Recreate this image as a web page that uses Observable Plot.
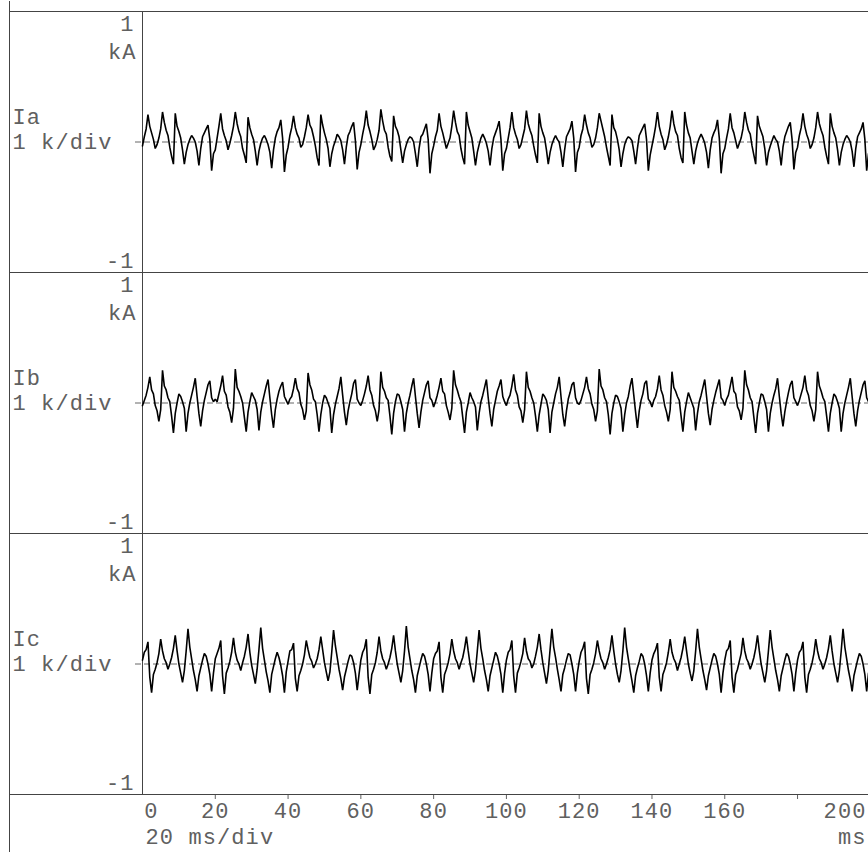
<!DOCTYPE html>
<html><head><meta charset="utf-8">
<script src="https://cdn.jsdelivr.net/npm/d3@7"></script>
<script src="https://cdn.jsdelivr.net/npm/@observablehq/plot@0.6"></script>
<style>body{margin:0;background:#fff} #chart svg{display:block}</style>
</head><body><div id="chart"></div>
<script>
// ---- data ----
const seriesNames = ["Ia", "Ib", "Ic"];
const sampleStepMs = 0.5;
// one row per 20 ms, samples every 0.5 ms, values in kA
const iaValues = [
-0.03,0.04,0.10,0.21,0.12,0.07,0.02,-0.05,-0.02,0.03,0.10,0.23,0.15,0.09,0.05,-0.04,-0.11,-0.17,0.22,0.12,0.08,0.03,-0.06,-0.17,-0.08,-0.02,0.02,0.05,0.03,0.00,-0.07,-0.18,-0.05,0.04,0.07,0.10,0.13,0.02,-0.22,-0.09,
-0.06,0.03,0.12,0.22,0.10,0.05,0.01,-0.06,-0.01,0.05,0.12,0.23,0.14,0.08,0.04,-0.05,-0.10,-0.16,0.19,0.11,0.06,0.02,-0.07,-0.18,-0.07,-0.01,0.03,0.05,0.02,-0.02,-0.08,-0.20,-0.06,0.03,0.08,0.11,0.17,0.03,-0.23,-0.10,
-0.04,0.05,0.11,0.20,0.11,0.06,0.03,-0.04,-0.02,0.04,0.11,0.21,0.13,0.10,0.04,-0.03,-0.12,-0.18,0.21,0.13,0.07,0.02,-0.05,-0.19,-0.09,-0.03,0.01,0.06,0.04,0.01,-0.06,-0.17,-0.04,0.05,0.08,0.12,0.15,0.01,-0.21,-0.08,
-0.02,0.06,0.13,0.24,0.13,0.08,0.02,-0.06,-0.03,0.02,0.09,0.25,0.16,0.09,0.06,-0.04,-0.11,-0.15,0.20,0.12,0.09,0.04,-0.06,-0.16,-0.07,-0.02,0.02,0.04,0.03,0.00,-0.09,-0.19,-0.05,0.04,0.06,0.10,0.14,0.02,-0.24,-0.09,
-0.03,0.04,0.09,0.22,0.12,0.07,0.01,-0.05,-0.01,0.03,0.12,0.24,0.15,0.08,0.05,-0.05,-0.12,-0.17,0.23,0.13,0.08,0.03,-0.07,-0.18,-0.08,-0.02,0.03,0.06,0.03,-0.01,-0.07,-0.18,-0.05,0.03,0.07,0.11,0.16,0.02,-0.22,-0.09,
-0.05,0.03,0.11,0.23,0.11,0.06,0.02,-0.05,-0.02,0.04,0.10,0.24,0.14,0.09,0.05,-0.03,-0.10,-0.16,0.22,0.12,0.07,0.03,-0.06,-0.17,-0.08,-0.02,0.02,0.05,0.02,0.00,-0.08,-0.19,-0.06,0.04,0.07,0.10,0.16,0.03,-0.23,-0.08,
-0.04,0.05,0.10,0.21,0.13,0.07,0.03,-0.04,-0.02,0.03,0.11,0.22,0.16,0.10,0.04,-0.04,-0.11,-0.18,0.21,0.11,0.08,0.02,-0.06,-0.19,-0.09,-0.02,0.02,0.04,0.03,0.01,-0.07,-0.17,-0.05,0.05,0.08,0.11,0.14,0.02,-0.22,-0.10,
-0.03,0.04,0.12,0.23,0.12,0.06,0.02,-0.06,-0.02,0.04,0.12,0.24,0.14,0.08,0.05,-0.05,-0.12,-0.16,0.23,0.13,0.07,0.03,-0.07,-0.17,-0.07,-0.01,0.03,0.06,0.03,-0.01,-0.08,-0.20,-0.06,0.03,0.07,0.10,0.17,0.03,-0.24,-0.09,
-0.05,0.03,0.10,0.22,0.11,0.07,0.01,-0.05,-0.01,0.03,0.10,0.23,0.15,0.09,0.06,-0.03,-0.10,-0.17,0.20,0.12,0.08,0.04,-0.05,-0.18,-0.08,-0.03,0.01,0.05,0.02,0.00,-0.07,-0.18,-0.04,0.04,0.08,0.12,0.15,0.02,-0.21,-0.08,
-0.04,0.05,0.11,0.22,0.12,0.06,0.02,-0.05,-0.02,0.03,0.11,0.23,0.14,0.09,0.05,-0.04,-0.11,-0.17,0.22,0.12,0.07,0.03,-0.06,-0.18,-0.08,-0.02,0.02,0.05,0.03,0.00,-0.07,-0.19,-0.05,0.04,0.07,0.10,0.15,0.02,-0.22,-0.09
];
const ibValues = [
-0.02,0.02,0.06,0.12,0.20,0.10,0.07,-0.02,-0.06,-0.14,-0.05,0.25,0.13,0.10,0.04,0.01,-0.10,-0.23,-0.08,0.00,0.07,0.05,0.01,-0.04,-0.22,-0.08,0.00,0.06,0.12,0.19,0.05,-0.08,-0.18,-0.06,0.02,0.08,0.14,0.17,0.04,0.01,
0.03,0.01,0.07,0.13,0.21,0.09,0.06,-0.03,-0.07,-0.15,-0.04,0.26,0.12,0.09,0.05,0.00,-0.11,-0.22,-0.07,0.01,0.08,0.05,0.02,-0.05,-0.21,-0.07,0.01,0.07,0.13,0.18,0.04,-0.09,-0.19,-0.05,0.03,0.09,0.13,0.16,0.05,0.02,
-0.01,0.03,0.05,0.11,0.19,0.11,0.08,-0.01,-0.05,-0.13,-0.06,0.23,0.14,0.10,0.03,0.01,-0.09,-0.22,-0.09,0.00,0.06,0.04,0.00,-0.04,-0.23,-0.09,-0.01,0.05,0.11,0.20,0.06,-0.07,-0.17,-0.06,0.01,0.07,0.15,0.18,0.03,0.00,
-0.02,0.02,0.07,0.13,0.21,0.10,0.06,-0.02,-0.06,-0.14,-0.05,0.24,0.12,0.09,0.04,0.02,-0.10,-0.24,-0.08,0.01,0.07,0.06,0.01,-0.05,-0.22,-0.08,0.00,0.06,0.13,0.19,0.05,-0.08,-0.19,-0.07,0.02,0.08,0.14,0.17,0.04,0.02,
-0.03,0.01,0.06,0.12,0.19,0.09,0.07,-0.02,-0.07,-0.13,-0.04,0.25,0.14,0.10,0.05,0.01,-0.11,-0.23,-0.07,0.00,0.08,0.04,0.01,-0.03,-0.21,-0.08,0.01,0.06,0.12,0.18,0.04,-0.08,-0.18,-0.05,0.02,0.09,0.13,0.18,0.05,0.01,
-0.02,0.03,0.06,0.13,0.22,0.10,0.06,-0.03,-0.06,-0.15,-0.05,0.24,0.12,0.09,0.04,0.00,-0.10,-0.22,-0.09,-0.01,0.07,0.05,0.02,-0.05,-0.23,-0.07,0.00,0.07,0.12,0.20,0.05,-0.09,-0.18,-0.06,0.03,0.08,0.14,0.16,0.04,0.00,
-0.01,0.02,0.07,0.12,0.20,0.11,0.07,-0.01,-0.05,-0.14,-0.06,0.26,0.13,0.10,0.04,0.01,-0.09,-0.24,-0.08,0.00,0.06,0.05,0.01,-0.04,-0.22,-0.09,0.00,0.05,0.13,0.19,0.06,-0.07,-0.19,-0.06,0.02,0.07,0.15,0.17,0.03,0.01,
-0.03,0.02,0.05,0.11,0.21,0.10,0.06,-0.02,-0.07,-0.14,-0.05,0.24,0.12,0.09,0.05,0.02,-0.10,-0.22,-0.07,0.01,0.08,0.04,0.00,-0.04,-0.21,-0.08,0.01,0.06,0.12,0.18,0.05,-0.08,-0.17,-0.05,0.02,0.08,0.13,0.18,0.04,0.02,
-0.02,0.03,0.06,0.13,0.20,0.09,0.07,-0.03,-0.06,-0.13,-0.04,0.25,0.14,0.10,0.04,0.01,-0.11,-0.23,-0.08,0.00,0.07,0.06,0.01,-0.05,-0.22,-0.08,0.00,0.06,0.11,0.19,0.05,-0.08,-0.18,-0.07,0.01,0.08,0.14,0.17,0.04,0.01,
-0.02,0.02,0.07,0.12,0.21,0.10,0.06,-0.02,-0.06,-0.14,-0.05,0.24,0.13,0.09,0.04,0.01,-0.10,-0.22,-0.08,0.00,0.07,0.05,0.01,-0.04,-0.22,-0.08,0.00,0.06,0.12,0.19,0.05,-0.08,-0.18,-0.06,0.02,0.08,0.14,0.17,0.04,0.01
];
const icValues = [
0.03,0.09,0.11,0.17,-0.10,-0.22,-0.08,-0.04,0.01,0.08,0.19,0.10,0.04,0.01,-0.04,0.00,0.05,0.12,0.22,0.10,0.00,-0.07,-0.14,-0.05,0.10,0.27,0.13,0.04,-0.05,-0.12,-0.21,-0.09,-0.03,0.03,0.08,0.06,0.00,-0.08,-0.21,-0.07,
0.04,0.08,0.12,0.18,-0.09,-0.23,-0.07,-0.03,0.02,0.09,0.20,0.09,0.03,0.00,-0.05,0.01,0.06,0.13,0.23,0.09,-0.01,-0.08,-0.15,-0.04,0.11,0.28,0.12,0.03,-0.06,-0.13,-0.22,-0.08,-0.02,0.04,0.09,0.05,-0.01,-0.09,-0.22,-0.06,
0.02,0.10,0.11,0.16,-0.11,-0.21,-0.09,-0.05,0.00,0.07,0.18,0.11,0.05,0.02,-0.03,0.00,0.04,0.11,0.21,0.11,0.01,-0.06,-0.13,-0.06,0.09,0.26,0.14,0.05,-0.04,-0.11,-0.20,-0.10,-0.04,0.02,0.07,0.06,0.01,-0.07,-0.20,-0.08,
0.03,0.09,0.12,0.19,-0.10,-0.23,-0.08,-0.04,0.01,0.09,0.21,0.10,0.04,0.01,-0.04,0.00,0.05,0.12,0.22,0.10,0.00,-0.07,-0.14,-0.05,0.10,0.29,0.13,0.04,-0.05,-0.12,-0.22,-0.09,-0.03,0.03,0.08,0.06,0.00,-0.08,-0.21,-0.07,
0.04,0.08,0.10,0.17,-0.10,-0.22,-0.08,-0.04,0.01,0.08,0.19,0.10,0.04,0.01,-0.04,0.01,0.05,0.12,0.21,0.10,0.00,-0.07,-0.14,-0.05,0.10,0.26,0.12,0.04,-0.05,-0.12,-0.21,-0.09,-0.03,0.03,0.09,0.06,0.00,-0.08,-0.22,-0.07,
0.03,0.09,0.11,0.18,-0.09,-0.22,-0.07,-0.03,0.02,0.08,0.20,0.10,0.04,0.02,-0.03,0.00,0.06,0.13,0.23,0.11,0.01,-0.07,-0.15,-0.05,0.11,0.27,0.13,0.05,-0.04,-0.12,-0.21,-0.08,-0.03,0.03,0.08,0.07,0.00,-0.08,-0.21,-0.07,
0.02,0.09,0.12,0.17,-0.11,-0.23,-0.08,-0.04,0.01,0.08,0.18,0.10,0.04,0.01,-0.04,0.00,0.05,0.11,0.22,0.10,0.00,-0.08,-0.14,-0.05,0.10,0.28,0.13,0.04,-0.05,-0.13,-0.22,-0.09,-0.03,0.02,0.08,0.06,0.00,-0.09,-0.21,-0.07,
0.03,0.08,0.11,0.16,-0.10,-0.21,-0.08,-0.04,0.01,0.09,0.19,0.09,0.04,0.01,-0.05,0.00,0.05,0.12,0.21,0.10,0.00,-0.07,-0.13,-0.05,0.10,0.27,0.13,0.04,-0.05,-0.12,-0.20,-0.09,-0.03,0.03,0.08,0.06,0.00,-0.08,-0.22,-0.07,
0.03,0.10,0.12,0.18,-0.10,-0.22,-0.08,-0.04,0.02,0.08,0.20,0.10,0.04,0.01,-0.04,0.00,0.05,0.12,0.22,0.10,0.00,-0.07,-0.14,-0.05,0.10,0.26,0.13,0.04,-0.05,-0.12,-0.21,-0.09,-0.03,0.03,0.08,0.06,0.00,-0.08,-0.21,-0.07,
0.03,0.09,0.11,0.17,-0.10,-0.22,-0.08,-0.04,0.01,0.08,0.19,0.10,0.04,0.01,-0.04,0.00,0.05,0.12,0.22,0.10,0.00,-0.07,-0.14,-0.05,0.10,0.27,0.13,0.04,-0.05,-0.12,-0.21,-0.09,-0.03,0.03,0.08,0.06,0.00,-0.08,-0.21,-0.07
];
const xTicks = [20, 40, 60, 80, 100, 120, 140, 160, 180];
const xTickLabels = ["20", "40", "60", "80", "100", "120", "140", "160", ""];
const xStartLabel = "0";
const xEndLabel = "200";
const xDivLabel = "20 ms/div";
const xUnitLabel = "ms";
const yTopLabel = "1";
const yUnitLabel = "kA";
const yBottomLabel = "-1";
const yScaleLabel = "1 k/div";

// ---- build table ----
const valuesBySeries = {Ia: iaValues, Ib: ibValues, Ic: icValues};
const wave = seriesNames.flatMap(s => valuesBySeries[s].map((v, i) => ({series: s, t: i * sampleStepMs, v})));
const lineColor = "#444";
const lastSeries = () => seriesNames[seriesNames.length - 1];

const chart = Plot.plot({
  width: 868,
  height: 853,
  marginTop: 10,
  marginBottom: 58,
  marginLeft: 142,
  marginRight: 0,
  style: {fontFamily: "'Liberation Mono', 'DejaVu Sans Mono', monospace", fontSize: "22px", color: "#606060", background: "#fff", letterSpacing: "1.1px"},
  x: {domain: [0, 199.5], ticks: xTicks, tickSize: 5, tickPadding: 3, tickFormat: d => xTickLabels[xTicks.indexOf(d)], label: null},
  y: {domain: [-1, 1], axis: null},
  fy: {domain: seriesNames, axis: null, padding: 0},
  marks: [
    Plot.ruleY([-1, 1], {insetLeft: -133, stroke: lineColor}),
    Plot.ruleX([0], {stroke: lineColor}),
    Plot.ruleX([0], {dx: -133, insetTop: -10, insetBottom: -58, stroke: lineColor}),
    Plot.ruleY([0], {insetLeft: -7, stroke: "#666", strokeDasharray: "6,3"}),
    Plot.line(wave, {x: "t", y: "v", fy: "series", stroke: "#000", strokeWidth: 1.6, strokeLinejoin: "miter"}),
    // left labels
    Plot.text(seriesNames, {fy: d => d, text: d => d, frameAnchor: "left", dx: -130, dy: -25, textAnchor: "start"}),
    Plot.text(seriesNames, {fy: d => d, text: () => yScaleLabel, frameAnchor: "left", dx: -130, textAnchor: "start"}),
    Plot.text(seriesNames, {fy: d => d, text: () => yTopLabel, frameAnchor: "top-left", dx: -8, dy: 4, textAnchor: "end", lineAnchor: "top"}),
    Plot.text(seriesNames, {fy: d => d, text: () => yUnitLabel, frameAnchor: "top-left", dx: -6, dy: 32, textAnchor: "end", lineAnchor: "top"}),
    Plot.text(seriesNames, {fy: d => d, text: () => yBottomLabel, frameAnchor: "bottom-left", dx: -8, dy: -5, textAnchor: "end"}),
    // bottom labels
    Plot.text([xStartLabel], {x: () => 0, fy: lastSeries, text: d => d, frameAnchor: "bottom", dx: 9, dy: 8, lineAnchor: "top"}),
    Plot.text([xEndLabel], {fy: lastSeries, text: d => d, frameAnchor: "bottom-right", dx: -2, dy: 8, textAnchor: "end", lineAnchor: "top"}),
    Plot.text([xDivLabel], {fy: lastSeries, text: d => d, frameAnchor: "bottom-left", dx: 3, dy: 34, textAnchor: "start", lineAnchor: "top"}),
    Plot.text([xUnitLabel], {fy: lastSeries, text: d => d, frameAnchor: "bottom-right", dx: -2, dy: 34, textAnchor: "end", lineAnchor: "top"})
  ]
});
document.getElementById("chart").append(chart);
</script>
</body></html>
